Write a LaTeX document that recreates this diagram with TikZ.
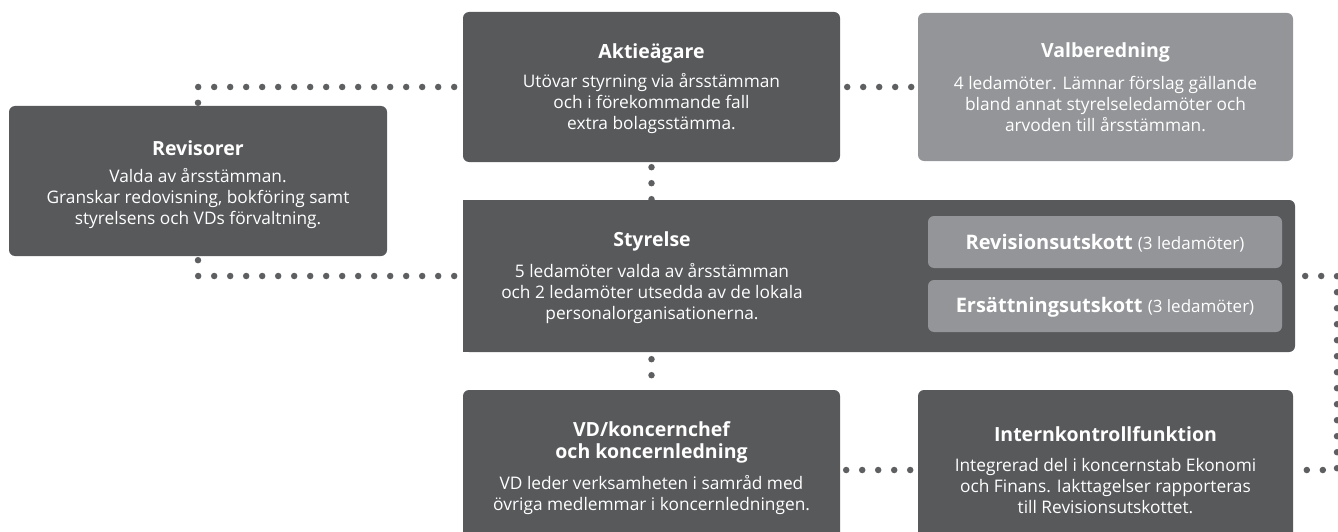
\documentclass[tikz,border=0pt]{standalone}
\usepackage{fontspec}
\setmainfont{Open Sans}
\usetikzlibrary{backgrounds,calc}
\definecolor{dark}{HTML}{58595B}
\definecolor{light}{HTML}{939598}
\definecolor{dotc}{HTML}{5E5F61}
\tikzset{
  box/.style={fill=dark, rounded corners=6pt, draw=none, inner sep=0pt},
  lbox/.style={box, fill=light},
  ttl/.style={text=white, font=\bfseries\fontsize{19.5}{21.5}\selectfont, align=center, inner sep=0pt},
  bdy/.style={text=white, font=\fontsize{17.3}{21}\selectfont, align=center, inner sep=0pt},
  cmt/.style={text=white, font=\fontsize{20}{22}\selectfont, inner sep=0pt},
  dots/.style={draw=dotc, line width=6.5pt, line cap=round, dash pattern=on 0pt off 16pt},
}
\begin{document}
\begin{tikzpicture}[x=1pt,y=-1pt]
\useasboundingbox (0,0) rectangle (1338,532);
\clip (0,0) rectangle (1338,532);
% boxes
\node[box, minimum width=377pt, minimum height=150pt] (akt) at (651.5,87) {};
\node[lbox, minimum width=375pt, minimum height=148pt] (val) at (1105.5,87) {};
\node[box, minimum width=378pt, minimum height=150pt] (rev) at (198,181) {};
\node[box, minimum width=832pt, minimum height=152pt] (styr) at (879,276) {};
\fill[dark] (styr.north west) rectangle ($(styr.south west)+(230,0)$);
\node[lbox, minimum width=354pt, minimum height=52pt] (revu) at (1105,242) {};
\node[lbox, minimum width=354pt, minimum height=52pt] (ers) at (1105,306) {};
\node[box, minimum width=377pt, minimum height=160pt] (vd) at (651.5,470) {};
\node[box, minimum width=375pt, minimum height=160pt] (intk) at (1105.5,470) {};
% texts
\node[ttl] (aktT) at (651.5,53) {Aktieägare};
\node[bdy] (aktB) at (651.5,104) {Utövar styrning via årsstämman\\och i förekommande fall\\extra bolagsstämma.};
\node[ttl] (valT) at (1105.5,52) {Valberedning};
\node[bdy] (valB) at (1105.5,104) {4 ledamöter. Lämnar förslag gällande\\bland annat styrelseledamöter och\\arvoden till årsstämman.};
\node[ttl] (revT) at (198,148) {Revisorer};
\node[bdy] (revB) at (198,199) {Valda av årsstämman.\\Granskar redovisning, bokföring samt\\styrelsens och VDs förvaltning.};
\node[ttl] (styrT) at (652,241) {Styrelse};
\node[bdy] (styrB) at (652,293.5) {5 ledamöter valda av årsstämman\\och 2 ledamöter utsedda av de lokala\\personalorganisationerna.};
\node[cmt] (revuT) at (1105,243) {\textbf{Revisionsutskott} {\fontsize{17}{20}\selectfont(3 ledamöter)}};
\node[cmt] (ersT) at (1105,307) {\textbf{Ersättningsutskott} {\fontsize{17}{20}\selectfont(3 ledamöter)}};
\node[ttl] (vdT) at (651.5,442.5) {VD/koncernchef\\och koncernledning};
\node[bdy] (vdB) at (651.5,495) {VD leder verksamheten i samråd med\\övriga medlemmar i koncernledningen.};
\node[ttl] (intkT) at (1105.5,434) {Internkontrollfunktion};
\node[bdy] (intkB) at (1105.5,486) {Integrerad del i koncernstab Ekonomi\\och Finans. Iakttagelser rapporteras\\till Revisionsutskottet.};
% connectors
\begin{pgfonlayer}{background}
\draw[dots, dash phase=13pt] (rev.north) |- (akt.west);
\draw[dots, dash phase=12pt] (rev.south) |- (styr.west);
\draw[dots, dash phase=9pt] (akt.east) -- (val.west);
\draw[dots, dash phase=11pt] (akt.south) -- (akt.south |- styr.north);
\draw[dots, dash phase=9pt] (vd.north |- styr.south) -- (vd.north);
\draw[dots, dash phase=10pt] (vd.east |- intk.west) -- (intk.west);
\coordinate (rc) at (1337,276);
\draw[dots, dash phase=6pt] (styr.east) -- (rc) -- (rc |- intk.east) -- (intk.east);
\end{pgfonlayer}
\end{tikzpicture}
\end{document}
